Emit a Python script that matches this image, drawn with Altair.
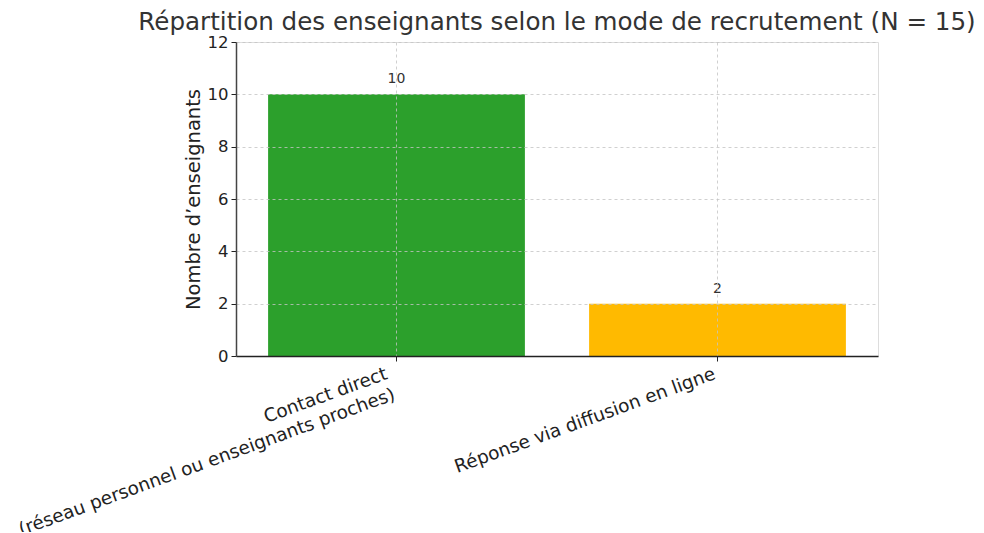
import altair as alt
import pandas as pd

categories = [
    "Contact direct\n(réseau personnel ou enseignants proches)",
    "Réponse via diffusion en ligne",
]
values = [10, 2]
colors = ["#2ca02c", "#FFBA00"]

df = pd.DataFrame({"mode": categories, "n": values, "color": colors})

FONT = "DejaVu Sans"

x_enc = alt.X(
    "mode:N",
    sort=categories,
    scale=alt.Scale(paddingInner=0.2, paddingOuter=0.1),
    axis=alt.Axis(
        title=None,
        labelAngle=-20,
        labelAlign="right",
        labelBaseline="top",
        labelExpr="split(datum.label, '\\n')",
        labelFont=FONT,
        labelFontSize=18.4,
        labelColor="#222222",
        labelLineHeight=22,
        labelPadding=3,
        labelOffset={"condition": {"test": "indexof(datum.value, 'Contact') >= 0", "value": -13}, "value": -6},
        labelLimit=0,
        tickSize=5,
        tickColor="#222222",
        domainColor="#222222",
        domainWidth=1.5,
        grid=True,
        gridDash=[3, 3],
        gridColor="#c4c4c4",
        gridWidth=0.8,
        zindex=1,
    ),
)

y_enc = alt.Y(
    "n:Q",
    scale=alt.Scale(domain=[0, 12], nice=False),
    axis=alt.Axis(
        title="Nombre d’enseignants",
        titleFont=FONT,
        titleFontSize=19.5,
        titleFontWeight="normal",
        titleColor="#222222",
        titlePadding=4,
        values=[0, 2, 4, 6, 8, 10, 12],
        labelFont=FONT,
        labelFontSize=16.5,
        labelColor="#222222",
        labelPadding=3,
        tickSize=5,
        tickColor="#222222",
        domainColor="#444444",
        domainWidth=1.5,
        grid=True,
        gridDash=[3, 3],
        gridColor="#c4c4c4",
        gridWidth=0.8,
        zindex=1,
    ),
)

bars = alt.Chart(df).mark_bar().encode(
    x=x_enc,
    y=y_enc,
    color=alt.Color("color:N", scale=None),
)

text = alt.Chart(df).mark_text(
    baseline="bottom", dy=-8, font=FONT, fontSize=14, color="#333333"
).encode(
    x=alt.X("mode:N", sort=categories),
    y=alt.Y("n:Q"),
    text=alt.Text("n:Q"),
)

chart = (
    alt.layer(bars, text)
    .properties(
        width=642,
        height=314,
        autosize=alt.AutoSizeParams(type="none"),
        padding={"left": 228, "top": 34, "right": 98, "bottom": 176},
        title=alt.TitleParams(
            "Répartition des enseignants selon le mode de recrutement (N = 15)",
            font=FONT,
            fontSize=24.6,
            fontWeight="normal",
            color="#333333",
            anchor="middle",
            frame="group",
            offset=0,
            dy=2,
        ),
    )
    .configure_view(stroke=None)
    .configure(background="white")
)

chart.save("out.html", embed_options={"renderer": "svg", "actions": False})
